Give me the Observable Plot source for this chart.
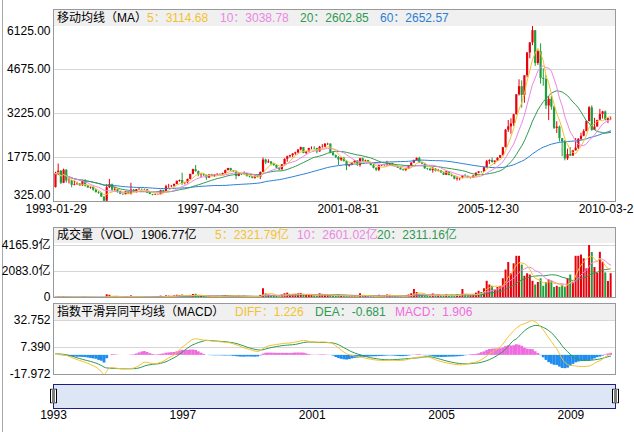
<!DOCTYPE html>
<html><head><meta charset="utf-8">
<script src="https://cdn.jsdelivr.net/npm/d3@7"></script>
<script src="https://cdn.jsdelivr.net/npm/@observablehq/plot@0.6"></script>
<style>
body{margin:0;background:#fff;}
#wrap{position:relative;width:634px;height:432px;overflow:hidden;font-family:"Liberation Sans","Noto Sans CJK SC",sans-serif;font-size:12px;color:#000;}
#wrap svg{overflow:visible;}
.pl{position:absolute;left:0;}
.strip{position:absolute;left:54px;width:561px;background:#f0f0f0;white-space:nowrap;}
.strip span{position:absolute;top:0;}
.vline{position:absolute;left:2px;top:0;width:1px;height:432px;background:#a8a8a8;}
</style></head>
<body><div id="wrap"><div class="vline"></div></div>
<script>
// ---- monthly data, 1993-01 .. 2010-03 (Shanghai Composite) ----
const open = [
784,1238,1324,925,1358,1001,1007,860,880,900,840,980,
834,770,790,700,620,600,470,334,780,880,700,720,
647,562,550,645,570,700,630,712,720,712,716,605,
555,537,550,550,680,643,813,815,826,888,988,1014,
917,943,1053,1219,1376,1310,1195,1202,1176,1097,1198,1153,
1194,1220,1207,1244,1344,1411,1339,1320,1151,1229,1217,1247,
1147,1134,1090,1158,1120,1280,1690,1601,1627,1557,1515,1423,
1367,1535,1714,1800,1836,1894,1928,2023,2101,1910,1961,2070,
2073,2065,1959,2112,2119,2214,2218,1921,1834,1779,1690,1746,
1646,1490,1525,1598,1655,1515,1733,1652,1670,1581,1507,1419,
1358,1500,1512,1510,1521,1576,1487,1477,1421,1367,1348,1397,
1497,1590,1675,1742,1595,1555,1400,1386,1342,1396,1320,1340,
1266,1191,1306,1181,1159,1060,1080,1083,1162,1155,1092,1099,
1161,1258,1299,1298,1440,1641,1672,1612,1658,1752,1837,2099,
2675,2786,2881,3183,3841,4109,3820,4471,5219,5552,5955,4871,
5262,4383,4348,3473,3693,3433,2736,2775,2397,2293,1729,1871,
1821,1991,2082,2373,2477,2633,2959,3412,2668,2779,2996,3195,
3277,2989,3052];
const high = [
1290,1559,1340,1392,1370,1100,1010,1000,960,920,1000,1044,
860,800,800,720,650,610,480,880,1053,900,790,730,
650,570,660,650,926,720,720,760,740,730,720,620,
560,560,570,700,700,860,890,850,900,1000,1030,1258,
960,1060,1220,1390,1510,1330,1245,1235,1200,1200,1220,1210,
1240,1230,1260,1360,1420,1422,1350,1330,1260,1240,1300,1250,
1160,1150,1170,1200,1300,1756,1720,1700,1640,1570,1530,1430,
1540,1730,1820,1850,1900,1950,2030,2115,2105,1970,2080,2125,
2131,2080,2140,2200,2230,2245,2220,1975,1860,1800,1776,1780,
1670,1535,1600,1670,1670,1748,1750,1690,1680,1590,1550,1435,
1520,1520,1530,1649,1580,1590,1530,1490,1440,1380,1410,1500,
1600,1690,1760,1783,1620,1560,1420,1420,1450,1400,1380,1350,
1280,1320,1310,1230,1170,1140,1090,1180,1220,1160,1100,1180,
1260,1310,1310,1450,1680,1700,1757,1660,1760,1840,2100,2698,
2995,3050,3200,3850,4335,4300,4470,5230,5560,6124,5960,5300,
5522,4696,4473,3786,3786,3460,2952,2810,2400,2330,2050,2100,
2011,2402,2400,2579,2689,2983,3454,3478,3068,3000,3361,3297,
3306,3060,3110];
const low = [
770,1180,880,914,930,900,777,840,860,830,830,800,
760,730,660,600,560,460,325,330,750,660,650,600,
550,524,545,550,540,620,600,700,680,690,600,550,
512,520,530,545,600,640,760,780,800,880,960,855,
870,905,1040,1200,1290,1140,1100,1150,1025,1090,1140,1120,
1160,1180,1190,1230,1330,1320,1280,1043,1140,1180,1200,1130,
1100,1070,1060,1110,1047,1275,1540,1580,1500,1480,1400,1341,
1361,1530,1620,1760,1770,1850,1900,1990,1900,1874,1960,2030,
2020,1893,1950,2080,2100,2170,1900,1830,1740,1514,1640,1620,
1339,1460,1500,1590,1480,1455,1630,1610,1575,1500,1400,1311,
1311,1480,1470,1490,1500,1480,1460,1410,1360,1320,1307,1390,
1490,1580,1660,1580,1540,1390,1350,1320,1260,1300,1300,1259,
1180,1180,1170,1130,1040,998,1005,1070,1130,1080,1067,1090,
1160,1240,1260,1290,1430,1540,1590,1540,1640,1740,1830,2090,
2600,2541,2800,3180,3800,3400,3560,4400,5030,5460,4778,4812,
4195,4123,3358,2990,3333,2693,2566,2284,1802,1664,1678,1814,
1814,1990,2037,2330,2460,2620,2950,2639,2660,2780,2990,3040,
2986,2890,2989];
const close = [
1238,1324,925,1358,1001,1007,860,880,900,840,980,834,
770,790,700,620,600,470,334,780,880,700,720,647,
562,550,645,570,700,630,712,720,712,716,605,555,
537,550,550,680,643,813,815,826,888,988,1014,917,
943,1053,1219,1376,1310,1195,1202,1176,1097,1198,1153,1194,
1220,1207,1244,1344,1411,1339,1320,1151,1229,1217,1247,1147,
1134,1090,1158,1120,1280,1690,1601,1627,1557,1515,1423,1367,
1535,1714,1800,1836,1894,1928,2023,2101,1910,1961,2070,2073,
2065,1959,2112,2119,2214,2218,1921,1834,1779,1690,1746,1646,
1490,1525,1598,1655,1515,1733,1652,1670,1581,1507,1419,1358,
1500,1512,1510,1521,1576,1487,1477,1421,1367,1348,1397,1497,
1590,1675,1742,1595,1555,1400,1386,1342,1396,1320,1340,1266,
1191,1306,1181,1159,1060,1080,1083,1162,1155,1092,1099,1161,
1258,1299,1298,1440,1641,1672,1612,1658,1752,1837,2099,2675,
2786,2881,3183,3841,4109,3820,4471,5219,5552,5955,4871,5262,
4383,4348,3473,3693,3433,2736,2775,2397.37,2293.78,1728.79,1871.16,1820.81,
1990.66,2082.85,2373.21,2477.57,2632.93,2959.36,3412.06,2667.74,2779.43,2995.85,3195.30,3277.14,
2989.29,3051.94,3059.73];
// volume, 亿 (hundred million shares)
const volume = [
20,35,30,40,25,22,20,15,18,15,25,30,
20,15,15,12,10,10,12,220,180,60,60,40,
30,25,60,30,130,40,60,50,40,40,30,25,
20,25,30,110,80,130,110,90,130,180,150,200,
80,120,170,240,260,120,90,80,90,110,70,80,
100,60,120,160,150,140,110,100,110,80,110,70,
60,40,80,70,170,700,300,200,150,90,80,60,
200,300,350,250,230,250,300,320,180,160,220,200,
150,100,300,250,230,200,180,130,100,220,150,120,
90,60,130,150,100,300,160,120,80,70,80,70,
180,100,150,200,180,120,100,90,90,80,120,200,
300,640,400,250,150,120,110,130,280,150,200,120,
100,200,150,180,120,200,140,640,250,150,140,200,
350,500,400,700,1300,1000,900,600,800,900,1500,2200,
2800,1900,2700,3300,3300,2600,1700,1900,1800,1300,1000,1200,
1500,900,1200,1400,1300,800,900,813,1000,800,1500,1800,
1200,3300,3300,3400,3100,2300,4165.9,3600,2400,1935.35,3620,2830,
1972.18,1280,1906.77];
const diff = [
1.5,1.3,0.9,0.5,0.0,-1.0,-2.0,-3.0,-4.0,-4.8,-5.6,-6.5,
-7.5,-8.6,-9.8,-11.0,-13.0,-15.0,-18.2,-15.0,-12.0,-11.5,-11.8,-12.2,
-12.5,-12.6,-12.6,-12.5,-12.3,-12.0,-11.0,-9.5,-7.8,-6.4,-6.6,-7.2,
-7.6,-7.8,-7.4,-6.5,-5.5,-4.0,-2.5,-1.0,0.5,2.5,5.0,7.7,
9.5,11.5,13.5,15.0,15.6,15.3,14.8,14.4,14.1,13.8,13.5,13.2,
13.0,12.8,12.5,12.2,12.0,11.6,10.9,10.0,9.0,8.0,7.0,6.3,
5.5,4.7,4.0,3.7,4.5,6.5,8.0,8.8,9.4,9.8,10.2,10.6,
11.0,11.3,11.5,11.6,12.0,12.5,13.0,13.6,14.1,13.8,13.2,12.8,
12.6,12.4,12.5,12.6,12.5,12.2,11.8,10.9,9.0,7.0,5.0,3.2,
1.5,0.5,0.0,-0.5,-1.2,-1.5,-2.0,-2.6,-3.2,-3.6,-4.0,-4.4,
-4.6,-4.8,-4.8,-4.7,-4.6,-4.6,-4.7,-4.8,-4.8,-4.6,-4.2,-3.6,
-3.0,-2.4,-1.9,-1.6,-1.6,-1.8,-1.6,-2.0,-3.0,-4.0,-5.0,-5.8,
-6.4,-7.0,-7.5,-8.0,-8.4,-8.7,-8.9,-8.8,-8.4,-7.8,-7.2,-6.8,
-6.4,-5.5,-4.0,-2.5,-0.5,1.5,3.0,4.5,6.0,7.8,10.5,14.0,
17.5,20.3,23.0,25.5,27.5,29.0,29.7,30.8,32.0,32.8,31.5,29.7,
27.0,24.0,20.3,16.5,13.0,9.5,6.2,1.5,-3.3,-6.5,-8.5,-9.5,
-9.5,-10.0,-10.3,-10.4,-10.4,-10.3,-10.0,-9.0,-7.5,-6.0,-5.0,-3.5,
-1.5,0.0,1.226];
const dea = [
1.5,1.4,1.2,1.0,0.6,0.0,-0.6,-1.5,-2.3,-3.0,-3.7,-4.4,
-5.0,-5.7,-6.5,-7.3,-8.3,-9.5,-11.0,-11.8,-12.0,-12.2,-12.3,-12.4,
-12.5,-12.6,-12.6,-12.6,-12.6,-12.5,-12.3,-11.8,-11.0,-10.0,-9.3,-8.8,
-8.4,-8.2,-8.0,-7.5,-6.8,-6.0,-4.8,-3.5,-2.2,-0.8,1.0,3.0,
5.0,6.8,8.5,10.0,11.0,12.0,12.8,13.5,14.1,14.0,13.8,13.6,
13.4,13.2,13.0,12.8,12.5,12.2,11.8,11.2,10.5,9.6,8.7,7.8,
7.0,6.3,5.7,5.2,5.0,5.3,6.0,6.7,7.3,7.8,8.3,8.7,
9.1,9.4,9.6,9.8,10.0,10.3,10.8,11.4,12.0,12.4,12.5,12.5,
12.4,12.2,12.1,12.1,12.1,12.0,11.9,11.6,11.0,10.0,8.7,7.3,
5.9,4.5,3.3,2.3,1.4,0.6,-0.2,-0.9,-1.6,-2.2,-2.7,-3.1,
-3.5,-3.8,-4.0,-4.1,-4.1,-4.0,-3.9,-3.8,-3.6,-3.4,-3.2,-3.0,
-2.8,-2.6,-2.4,-2.2,-1.8,-1.4,-1.2,-1.3,-1.7,-2.3,-3.0,-3.8,
-4.5,-5.2,-5.8,-6.4,-6.9,-7.3,-7.7,-7.9,-8.0,-8.0,-7.8,-7.5,
-7.3,-7.0,-6.5,-5.8,-5.0,-4.0,-2.8,-1.5,0.0,1.6,3.5,5.8,
8.5,11.5,14.0,15.5,18.0,20.5,23.0,25.0,26.5,27.5,28.1,28.0,
27.3,26.3,25.0,23.3,21.3,18.8,15.6,12.5,9.0,6.0,3.5,1.0,
-1.0,-3.0,-4.0,-4.6,-4.8,-4.8,-4.7,-4.5,-4.2,-3.8,-3.4,-2.8,
-2.0,-1.3,-0.681];

const dateLabels = ["1993-01-29","1997-04-30","2001-08-31","2005-12-30","2010-03-2"];
const dateLabelIdx = [0,51,103,155,206];
const yearLabels = ["1993","1997","2001","2005","2009"];
const yearLabelIdx = [0,48,96,144,192];
const priceTicks = [6125,4675,3225,1775,325];
const volTicks = [0,2083.0,4165.9];
const volTickLabels = ["0","2083.0亿","4165.9亿"];
const macdTicks = [32.752,7.390,-17.972];
const macdTickLabels = ["32.752","7.390","-17.972"];

const RED="#e8000a", GREEN="#1f9e3c";
const C5="#f2c230", C10="#ec86e6", C20="#2e9a52", C60="#2a7fd4";
const PINK="#f06ae0", BLUE="#1e8cf0";
const FONT='"Liberation Sans","Noto Sans CJK SC",sans-serif';
const XD=[-0.74,207.8];

const rows = close.map((c,i)=>({i,open:open[i],high:high[i],low:low[i],close:c,vol:volume[i],
  diff:diff[i],dea:dea[i],macd:diff[i]-dea[i],col:c>=open[i]?RED:GREEN}));

const base = {width:634, marginLeft:53, marginRight:19, x:{domain:XD, axis:null},
  color:{type:"identity"}, style:{fontFamily:FONT,fontSize:"12px",color:"#000",background:"transparent",overflow:"visible"}};

const ma = (k,field,col)=>Plot.lineY(rows, Plot.windowY({k,anchor:"end"},{x:"i",y:field,stroke:col,strokeWidth:1}));
const lab = (t)=>Plot.text(t.v,{y:d=>d,text:(d,j)=>t.s[j],frameAnchor:"left",textAnchor:"end",dx:-3,dy:t.dy||0,fill:"#000"});

// price panel
const price = Plot.plot({...base, height:222, marginTop:9, marginBottom:21,
  y:{domain:[325,6652], axis:null},
  marks:[
    Plot.ruleY(priceTicks.slice(1,4),{stroke:"#d6d6d6"}),
    Plot.ruleX(rows,{x:"i",y1:"low",y2:"high",stroke:"col",strokeWidth:1}),
    Plot.ruleX(rows,{x:"i",y1:"open",y2:"close",stroke:"col",strokeWidth:2.2}),
    ma(60,"close",C60), ma(20,"close",C20), ma(10,"close",C10), ma(5,"close",C5),
    Plot.frame({stroke:"#999"}),
    lab({v:priceTicks.slice(1,4),s:priceTicks.slice(1,4).map(d=>d.toFixed(2))}),
    lab({v:[priceTicks[0]],s:[priceTicks[0].toFixed(2)],dy:6}),
    lab({v:[priceTicks[4]],s:[priceTicks[4].toFixed(2)],dy:-6}),
    Plot.text([0],{x:d=>dateLabelIdx[d],text:d=>dateLabels[d],frameAnchor:"bottom",dy:11,textAnchor:"start",dx:-30,fill:"#000"}),
    Plot.text([1,2,3],{x:d=>dateLabelIdx[d],text:d=>dateLabels[d],frameAnchor:"bottom",dy:11,dx:15,fill:"#000"}),
    Plot.text([4],{x:d=>dateLabelIdx[d],text:d=>dateLabels[d],frameAnchor:"bottom",dy:11,textAnchor:"start",dx:-32,fill:"#000"})
  ]});

// volume panel
const vol = Plot.plot({...base, height:80, marginTop:5, marginBottom:5,
  y:{domain:[0,5608], axis:null},
  marks:[
    Plot.ruleY(volTicks.slice(1),{stroke:"#d6d6d6"}),
    Plot.ruleX(rows,{x:"i",y1:0,y2:"vol",stroke:"col",strokeWidth:2}),
    ma(20,"vol",C20), ma(10,"vol",C10), ma(5,"vol",C5),
    Plot.frame({stroke:"#999"}),
    lab({v:volTicks,s:volTickLabels})
  ]});

// MACD panel
const macd = Plot.plot({...base, height:78, marginTop:3, marginBottom:4,
  y:{domain:[-17.972,48.72], axis:null},
  marks:[
    Plot.ruleY(macdTicks.slice(0,2),{stroke:"#d6d6d6"}),
    Plot.ruleX(rows,{x:"i",y1:0,y2:"macd",stroke:d=>d.macd>=0?PINK:BLUE,strokeWidth:2.8}),
    Plot.lineY(rows,{x:"i",y:"dea",stroke:C20,strokeWidth:1,curve:"monotone-x"}),
    Plot.lineY(rows,{x:"i",y:"diff",stroke:C5,strokeWidth:1,curve:"monotone-x"}),
    Plot.frame({stroke:"#999"}),
    lab({v:macdTicks,s:macdTickLabels})
  ]});

// navigator
const nav = Plot.plot({...base, height:54, marginTop:6, marginBottom:24,
  y:{domain:[0,1], axis:null},
  marks:[
    Plot.frame({fill:"#dce6f5",stroke:"#1c1c8a"}),
    Plot.ruleX(XD,{y1:0.2,y2:0.8,stroke:"#000",strokeWidth:7}),
    Plot.ruleX(XD,{y1:0.23,y2:0.77,stroke:"#fff",strokeWidth:5}),
    Plot.ruleX(XD,{y1:0.27,y2:0.73,stroke:"#000",strokeWidth:3,strokeDasharray:"1 1"}),
    Plot.text(yearLabelIdx,{x:d=>d,text:(d,j)=>yearLabels[j],frameAnchor:"bottom",dy:10,dx:-2,fill:"#000"})
  ]});

const wrap=document.getElementById("wrap");
function place(el,top){el.classList.add("pl");el.style.top=top+"px";el.style.overflow="visible";wrap.appendChild(el);}
place(price,0); place(vol,222); place(macd,300); place(nav,378);

function strip(top,h,items){
  const d=document.createElement("div");d.className="strip";d.style.top=top+"px";d.style.height=h+"px";d.style.lineHeight=h+"px";
  for(const [x,t,c] of items){const s=document.createElement("span");s.style.left=(x-54)+"px";s.style.color=c;s.textContent=t;d.appendChild(s);}
  wrap.appendChild(d);
}
strip(10,16,[[57,"移动均线（MA）","#000"],[147,"5：3114.68",C5],[220,"10：3038.78",C10],[300,"20：2602.85",C20],[380,"60：2652.57",C60]]);
strip(228,15,[[57,"成交量（VOL）1906.77亿","#000"],[215,"5：2321.79亿",C5],[297,"10：2601.02亿",C10],[377,"20：2311.16亿",C20]]);
strip(304,16,[[57,"指数平滑异同平均线（MACD）","#000"],[235,"DIFF：1.226",C5],[315,"DEA：-0.681",C20],[395,"MACD：1.906",PINK]]);
</script></body></html>
